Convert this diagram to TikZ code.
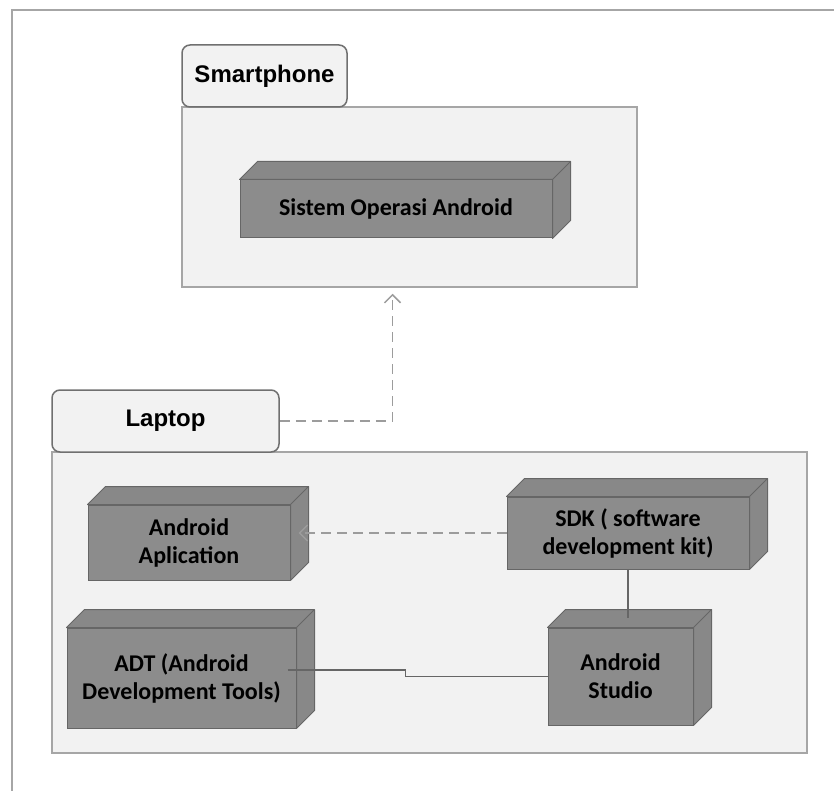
\documentclass[tikz,border=0pt]{standalone}
\usepackage{fontspec}
\newfontfamily\boxfont{Carlito}
\newfontfamily\tabfont{Liberation Sans}
\usepackage{tikz}
\usetikzlibrary{arrows.meta,positioning}
\definecolor{framefill}{HTML}{F2F2F2}
\definecolor{frameline}{HTML}{A6A6A6}
\definecolor{tabline}{HTML}{707070}
\definecolor{boxfill}{HTML}{8C8C8C}
\definecolor{boxside}{HTML}{888888}
\definecolor{boxline}{HTML}{666666}
\definecolor{linkgray}{HTML}{9C9C9C}

\tikzset{
  devframe/.style={draw=frameline, fill=framefill, line width=1.5pt, inner sep=0pt},
  devtab/.style={draw=tabline, fill=framefill, line width=1.5pt, rounded corners=8pt, inner sep=0pt,
    font=\tabfont\bfseries\fontsize{24}{28}\selectfont},
  devbox/.style={draw=boxline, fill=boxfill, line width=1pt, inner sep=0pt, align=center,
    font=\boxfont\bfseries\fontsize{24}{28}\selectfont},
  depends/.style={draw=linkgray, line width=1.5pt, dash pattern=on 10pt off 6pt,
    -{Straight Barb[length=8pt,width=16pt]}},
  wire/.style={draw=boxline, line width=1.2pt}
}

\begin{document}
\begin{tikzpicture}[x=1pt,y=-1pt]
\useasboundingbox (0,0) rectangle (834,791);
\draw[frameline, line width=1.5pt] (834,10) -- (12,10) -- (12,791);

% smartphone
\node[devframe, minimum width=455pt, minimum height=180pt] (phone) at (409.5,197) {};
\node[devtab, minimum width=165pt, minimum height=62pt] (phonetab) at (264.5,76) {Smartphone};
\node[devbox, minimum width=312pt, minimum height=58pt] (sistem) at (396,209) {Sistem Operasi Android};

% laptop
\node[devframe, minimum width=755pt, minimum height=301pt] (laptop) at (429.5,602.5) {};
\node[devtab, minimum width=227pt, minimum height=62pt] (laptoptab) at (165.5,421) {Laptop};
\node[devbox, minimum width=202pt, minimum height=75pt] (app) at (189,542.5) {Android\\Aplication};
\node[devbox, minimum width=242pt, minimum height=72pt] (sdk) at (628,533) {SDK ( software\\development kit)};
\node[devbox, minimum width=145pt, minimum height=97pt] (studio) at (620.5,676.5) {Android\\Studio};
\node[devbox, minimum width=229pt, minimum height=100pt] (adt) at (181.5,678) {ADT (Android\\Development Tools)};

% depth faces
\foreach \n in {sistem,app,sdk,studio,adt}{
  \draw[boxline, fill=boxside, line width=1pt, line join=round]
    (\n.north west) -- ++(18,-18) -- ([shift={(18,-18)}]\n.north east)
    -- ([shift={(18,-18)}]\n.south east) -- (\n.south east) -- (\n.north east) -- cycle
    (\n.north east) -- ++(18,-18);
}

% connectors
\coordinate (apptip) at ([xshift=8pt]app.east);
\coordinate (adtout) at ([xshift=-9pt,yshift=8pt]adt.east);
\draw[depends] (laptoptab.east) -| ([xshift=-17pt,yshift=-6pt]phone.south);
\draw[depends] (sdk.west) -- (sdk.west -| apptip);
\draw[wire] (sdk.south) -- ([yshift=10pt]sdk.south |- studio.north);
\draw[wire] (adtout) -- ++(118,0) |- (studio.west);
\end{tikzpicture}
\end{document}
